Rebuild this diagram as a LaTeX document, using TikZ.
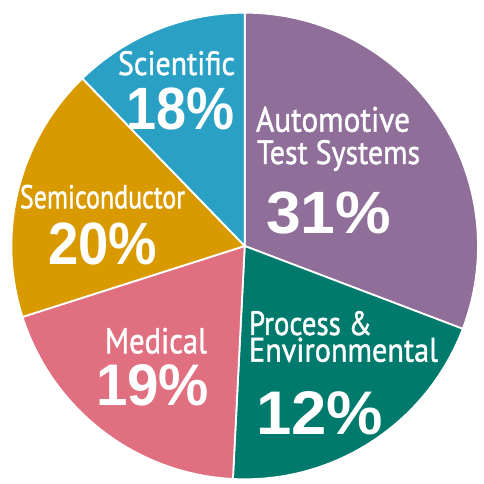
\documentclass[tikz,border=0pt]{standalone}
\usepackage{fontspec}
\usepackage{graphicx}
\setmainfont{Liberation Sans}
\newfontfamily\lblfont[FakeBold=1.3]{PT Sans}
\newfontfamily\pctfont{Liberation Sans}
\definecolor{autocol}{RGB}{143,110,153}
\definecolor{proccol}{RGB}{0,122,108}
\definecolor{medcol}{RGB}{224,112,128}
\definecolor{semicol}{RGB}{217,154,0}
\definecolor{scicol}{RGB}{42,161,196}
\newcommand\lbl[3]{\resizebox{#1pt}{#2pt}{\lblfont #3}}
\newcommand\pct[3]{\resizebox{#1pt}{#2pt}{\pctfont\bfseries #3}}
\begin{document}
\begin{tikzpicture}[x=1pt,y=1pt]
\tikzset{
  slice/.style={draw=white, line width=1.8pt, line join=round},
  txt/.style={anchor=base west, inner sep=0pt, outer sep=0pt, text=white}
}
\useasboundingbox (0,0) rectangle (484,484);
\fill[white] (0,0) rectangle (484,484);
\def\R{233.3}
\coordinate (O) at (244.7,238);
% slices
\path[slice, fill=autocol] (O) -- ++(90:\R) arc[start angle=90, end angle=-20.8, radius=\R] -- cycle;
\path[slice, fill=proccol] (O) -- ++(-20.8:\R) arc[start angle=-20.8, end angle=-92.9, radius=\R] -- cycle;
\path[slice, fill=medcol] (O) -- ++(-92.9:\R) arc[start angle=-92.9, end angle=-162.3, radius=\R] -- cycle;
\path[slice, fill=semicol] (O) -- ++(197.7:\R) arc[start angle=197.7, end angle=134.1, radius=\R] -- cycle;
\path[slice, fill=scicol] (O) -- ++(134.1:\R) arc[start angle=134.1, end angle=90, radius=\R] -- cycle;
% labels
\node[txt] (sciL) at (118,409) {\lbl{117}{24}{Scientific}};
\node[txt] (sciP) at (126,354) {\pct{108}{41.7}{18\%}};
\node[txt] (autoL1) at (256,352.3) {\lbl{154}{25}{Automotive}};
\node[txt] (autoL2) at (257,320) {\lbl{163}{24}{Test Systems}};
\node[txt] (autoP) at (266,250.7) {\pct{125}{41.7}{31\%}};
\node[txt] (semiL) at (20,275.7) {\lbl{165}{23.5}{Semiconductor}};
\node[txt] (semiP) at (48,219) {\pct{109}{41.7}{20\%}};
\node[txt] (medL) at (105,130.7) {\lbl{102}{25.5}{Medical}};
\node[txt] (medP) at (96,78) {\pct{113}{41}{19\%}};
\node[txt] (procL1) at (249,149) {\lbl{123}{24}{Process \&}};
\node[txt] (procL2) at (249,122.3) {\lbl{189}{24}{Environmental}};
\node[txt] (procP) at (256,50) {\pct{127}{43}{12\%}};
\end{tikzpicture}
\end{document}
